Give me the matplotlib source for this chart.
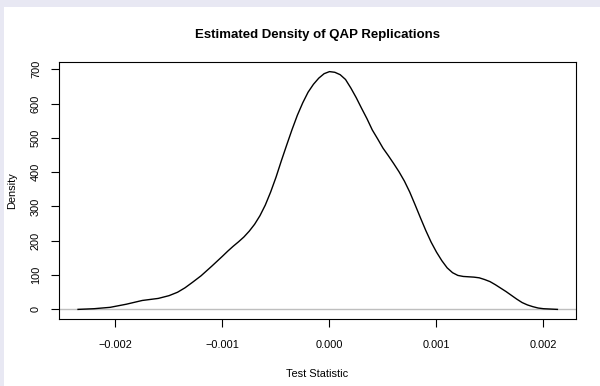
import matplotlib
matplotlib.use("Agg")
import matplotlib.pyplot as plt
from matplotlib.patches import Rectangle

plt.rcParams['font.family'] = ['Liberation Sans', 'DejaVu Sans']

# density estimate (x in units of 1e-3)
x_vals = [-2.35, -2.20, -2.05, -1.90, -1.75, -1.60, -1.50, -1.42, -1.35, -1.28,
          -1.20, -1.10, -1.00, -0.95, -0.90, -0.85, -0.80, -0.75, -0.70, -0.65,
          -0.60, -0.55, -0.50, -0.45, -0.40, -0.35, -0.30, -0.25, -0.20, -0.15,
          -0.10, -0.05, 0.00, 0.05, 0.10, 0.15, 0.20, 0.25, 0.30, 0.35,
          0.40, 0.45, 0.50, 0.55, 0.60, 0.65, 0.70, 0.75, 0.80, 0.85,
          0.90, 0.95, 1.00, 1.05, 1.10, 1.15, 1.20, 1.25, 1.30, 1.35,
          1.40, 1.45, 1.50, 1.55, 1.60, 1.65, 1.70, 1.75, 1.80, 1.85,
          1.90, 1.95, 2.00, 2.13]
density = [0, 2, 6, 15, 26, 32, 40, 50, 63, 79,
           98, 126, 155, 170, 184, 197, 211, 228, 248, 273,
           304, 342, 385, 433, 479, 524, 566, 602, 633, 656,
           674, 687, 693, 691, 684, 670, 645, 617, 586, 556,
           523, 497, 470, 448, 425, 401, 374, 342, 305, 267,
           230, 196, 167, 142, 121, 107, 99, 96, 95, 94,
           92, 87, 81, 72, 62, 52, 41, 30, 20, 13,
           8, 4, 2, 0]
x_ticks = [-0.002, -0.001, 0.0, 0.001, 0.002]
x_labels = ['\u22120.002', '\u22120.001', '0.000', '0.001', '0.002']
y_ticks = [0, 100, 200, 300, 400, 500, 600, 700]

xs = [v * 1e-3 for v in x_vals]

fig = plt.figure(figsize=(6.0, 3.86), dpi=100)
fig.patch.set_facecolor('#E8E8F3')
# white page area (lavender strip at top and left)
fig.patches.append(Rectangle((4 / 600, 0), 1, (386 - 7) / 386,
                             transform=fig.transFigure, facecolor='white',
                             edgecolor='none', zorder=-10))

ax = fig.add_axes([59 / 600, 1 - 319 / 386, 517 / 600, 257 / 386])
ax.set_zorder(5)
ax.set_facecolor('white')
ax.axhline(0, color='#BEBEBE', lw=1.0, zorder=1)
ax.plot(xs, density, color='black', lw=1.0, zorder=2)

ax.set_xlim(-0.002528, 0.002304)
ax.set_ylim(-28, 721)
ax.set_xticks(x_ticks)
ax.set_xticklabels(x_labels)
ax.set_yticks(y_ticks)
ax.set_yticklabels([str(v) for v in y_ticks], rotation=90, va='center')
ax.tick_params(direction='out', length=6, width=0.8, labelsize=7.9,
               colors='black')
ax.tick_params(axis='x', pad=9)
ax.tick_params(axis='y', pad=7)
for s in ax.spines.values():
    s.set_color('black')
    s.set_linewidth(0.8)

ax.set_xlabel('Test Statistic', fontsize=7.9, labelpad=14)
ax.set_ylabel('Density', fontsize=7.9, labelpad=10)
fig.text(317.5 / 600, 1 - 35 / 386, 'Estimated Density of QAP Replications',
         ha='center', va='center', fontsize=9.5, fontweight='bold', zorder=6)

fig.savefig('out.png', dpi=100)
